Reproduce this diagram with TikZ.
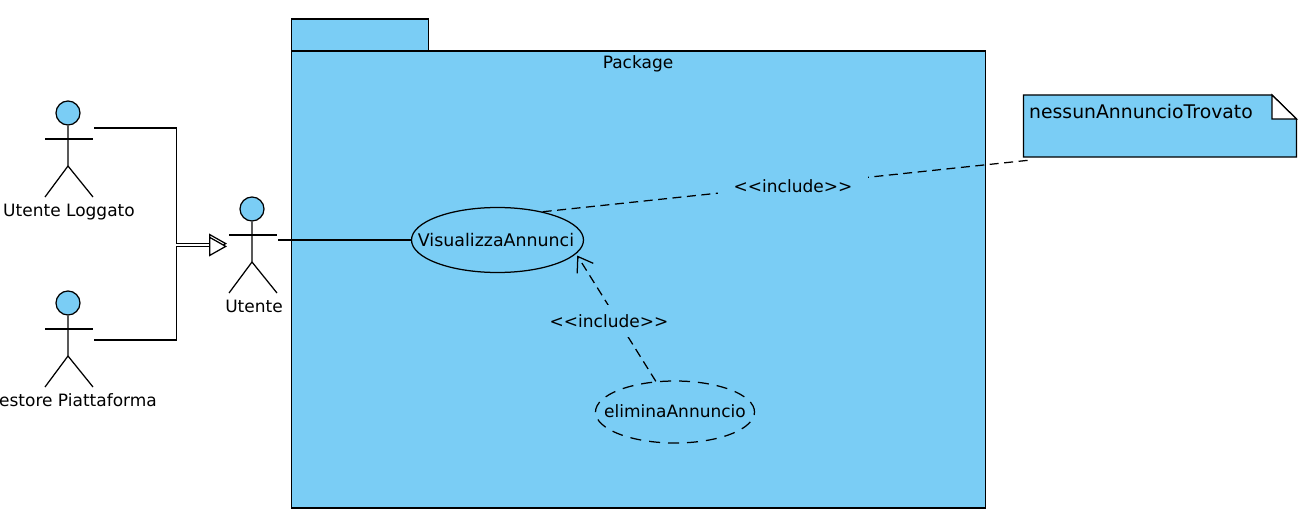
\documentclass[tikz,border=0pt]{standalone}
\usepackage{fontspec}
\setmainfont{DejaVu Sans}
\usetikzlibrary{shapes.geometric,arrows.meta}
\definecolor{pkgblue}{RGB}{122,205,245}
\tikzset{
    umltext/.style={font=\fontsize{17}{20}\selectfont, text=black, inner sep=0pt, text height=12pt, text depth=0pt},
    umlline/.style={line width=1.25pt, black},
    usecase/.style={ellipse, draw, line width=1.25pt, fill=pkgblue, inner sep=0pt},
    includeline/.style={line width=1.25pt, dash pattern=on 9pt off 5.5pt},
    includelabel/.style={umltext, fill=pkgblue},
    genline/.style={umlline, -{Triangle[open, fill=white, length=18pt, width=20pt]}}
}

\begin{document}
\begin{tikzpicture}[x=1pt,y=-1pt]
    \useasboundingbox (0,0) rectangle (1306,524);

    % package
    \draw[umlline, fill=pkgblue] (291.5,19) rectangle (428.5,51);
    \draw[umlline, fill=pkgblue] (291.5,51) rectangle (985.5,508);
    \node[umltext] (pkgname) at (638,63) {Package};

    % actors
    \foreach \aname/\ax/\ay/\lx/\atext in {loggato/68/113/69/Utente Loggato, gestore/68/303/78/estore Piattaforma, utente/252/209/254/Utente} {
        \node[circle, draw, line width=1.25pt, fill=pkgblue, minimum size=24pt, inner sep=0pt] (\aname) at (\ax,\ay) {};
        \draw[umlline] (\aname.south) -- (\ax,\ay+53) -- (\ax-23,\ay+84);
        \draw[umlline] (\ax,\ay+53) -- (\ax+25,\ay+84);
        \draw[umlline] (\ax-23,\ay+26) -- (\ax+25,\ay+26);
        \node[umltext] (\aname text) at (\lx,\ay+97) {\atext};
    }

    % use cases
    \node[usecase, minimum width=172pt, minimum height=65pt, label={[umltext, font=\fontsize{17.4}{20}\selectfont, xshift=-1.5pt]center:VisualizzaAnnunci}] (vis) at (497.5,240) {};
    \node[usecase, dash pattern=on 11pt off 8pt, minimum width=159pt, minimum height=62pt, label={[umltext, yshift=1pt]center:eliminaAnnuncio}] (elim) at (675,412) {};

    % note
    \draw[umlline, fill=pkgblue] (1023.5,95) -- (1272,95) -- (1296.5,119) -- (1296.5,157) -- (1023.5,157) -- cycle;
    \draw[umlline, fill=white] (1272,95) -- (1296.5,119) -- (1272,119) -- cycle;
    \node[umltext, font=\fontsize{18.8}{20}\selectfont, anchor=west] (note) at (1029,113) {nessunAnnuncioTrovato};
    \coordinate (noteend) at (1031,160);

    % generalization
    \coordinate (loggatoout) at (94,128);
    \coordinate (gestoreout) at (94,340);
    \coordinate (utentein1) at (227,243.6);
    \coordinate (utentein2) at (227,246.4);
    \coordinate (utenteout) at (278,240);
    \draw[genline] (loggatoout) -- (176.5,128) -- (176.5,243.6) -- (utentein1);
    \draw[genline] (gestoreout) -- (176.5,340) -- (176.5,246.4) -- (utentein2);
    \draw[umlline] (utenteout) -- (vis.west);

    % include lines
    \draw[includeline] (vis.32) -- (noteend);
    \node[includelabel, minimum width=150pt, minimum height=20pt] (incnote) at (793,186) {<{}<include>{}>};
    \draw[includeline, shorten >=2pt, -{Straight Barb[length=14pt, width=19pt]}] (elim.122) -- (vis.-10.7);
    \node[includelabel, minimum width=114pt, minimum height=32pt] (incelim) at (609,321) {<{}<include>{}>};
\end{tikzpicture}
\end{document}
